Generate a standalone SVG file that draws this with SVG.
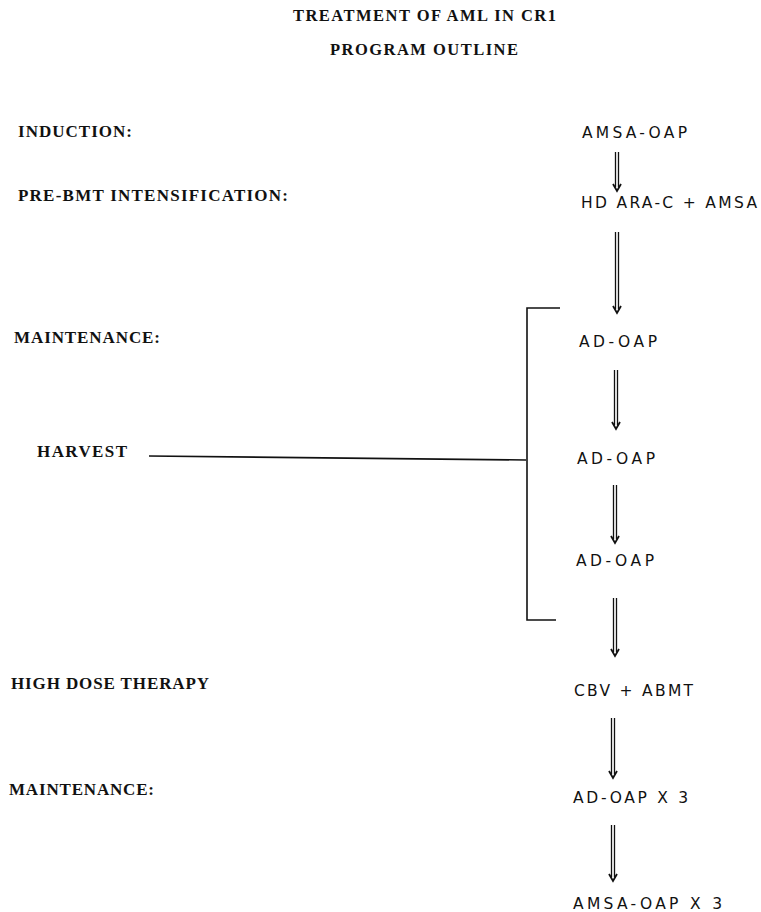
<svg xmlns="http://www.w3.org/2000/svg" width="761" height="912" viewBox="0 0 761 912">
<style>
.title{font-family:"Liberation Serif",serif;font-weight:bold;font-size:16.5px;fill:#111}
.lab{font-family:"Liberation Serif",serif;font-weight:bold;font-size:17px;fill:#111}
.step{font-family:"DejaVu Sans","Liberation Sans",sans-serif;font-size:15.5px;fill:#111}
.ln{stroke:#111;stroke-width:1.6;fill:none}
.dl{stroke:#111;stroke-width:1.3;fill:none}
.hd{stroke:#111;stroke-width:1.8;fill:none;stroke-linejoin:miter}
</style>
<rect width="761" height="912" fill="#fff"/>
<g id="title">
<text class="title" x="293" y="21" textLength="263" lengthAdjust="spacing">TREATMENT OF AML IN CR1</text>
<text class="title" x="330" y="55" textLength="188" lengthAdjust="spacing">PROGRAM OUTLINE</text>
</g>
<g id="labels">
<text class="lab" x="18" y="137" textLength="114" lengthAdjust="spacing">INDUCTION:</text>
<text class="lab" x="18" y="201" textLength="270" lengthAdjust="spacing">PRE-BMT INTENSIFICATION:</text>
<text class="lab" x="14" y="343" textLength="146" lengthAdjust="spacing">MAINTENANCE:</text>
<text class="lab" x="37" y="457" textLength="90" lengthAdjust="spacing">HARVEST</text>
<text class="lab" x="11" y="689" textLength="198" lengthAdjust="spacing">HIGH DOSE THERAPY</text>
<text class="lab" x="9" y="795" textLength="145" lengthAdjust="spacing">MAINTENANCE:</text>
</g>
<g id="n1"><text class="step" x="582" y="138" textLength="105" lengthAdjust="spacing">AMSA-OAP</text></g>
<g id="n2"><text class="step" x="581" y="208" textLength="176" lengthAdjust="spacing">HD ARA-C + AMSA</text></g>
<g id="n3"><text class="step" x="579" y="347" textLength="78" lengthAdjust="spacing">AD-OAP</text></g>
<g id="n4"><text class="step" x="577" y="464" textLength="78" lengthAdjust="spacing">AD-OAP</text></g>
<g id="n5"><text class="step" x="576" y="566" textLength="78" lengthAdjust="spacing">AD-OAP</text></g>
<g id="n6"><text class="step" x="574" y="696" textLength="119" lengthAdjust="spacing">CBV + ABMT</text></g>
<g id="n7"><text class="step" x="573" y="803" textLength="115" lengthAdjust="spacing">AD-OAP X 3</text></g>
<g id="n8"><text class="step" x="573" y="909" textLength="149" lengthAdjust="spacing">AMSA-OAP X 3</text></g>
<g id="connectors">
<path class="ln" d="M560 308 H527 V620 H556"/>
<path class="ln" d="M149 456 L526 460"/>
<path class="dl" d="M615.5 152 V187 M618.5 152 V187"/><path class="hd" d="M613 184 L617 191 L621 184"/>
<path class="dl" d="M615.5 232 V309 M618.5 232 V309"/><path class="hd" d="M613 306 L617 313 L621 306"/>
<path class="dl" d="M614.5 370 V425 M617.5 370 V425"/><path class="hd" d="M612 422 L616 429 L620 422"/>
<path class="dl" d="M613.5 485 V539 M616.5 485 V539"/><path class="hd" d="M611 536 L615 543 L619 536"/>
<path class="dl" d="M613.5 598 V652 M616.5 598 V652"/><path class="hd" d="M611 649 L615 656 L619 649"/>
<path class="dl" d="M611.5 718 V774 M614.5 718 V774"/><path class="hd" d="M609 771 L613 778 L617 771"/>
<path class="dl" d="M611.5 825 V877 M614.5 825 V877"/><path class="hd" d="M609 874 L613 881 L617 874"/>
</g>
</svg>
